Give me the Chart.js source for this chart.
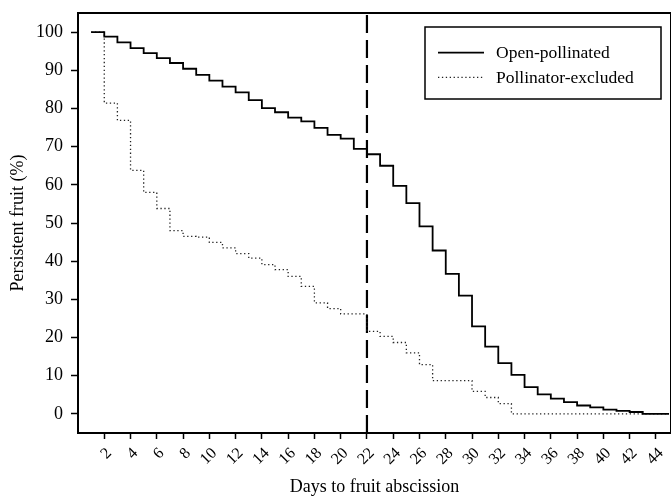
<!DOCTYPE html>
<html>
<head>
<meta charset="utf-8">
<script src="https://cdn.jsdelivr.net/npm/chart.js@4.4.0/dist/chart.umd.min.js"></script>
<style>
  html, body { margin: 0; padding: 0; background: #fff; }
  canvas { display: block; }
</style>
</head>
<body>
<canvas id="chart" width="671" height="500"></canvas>
<script>
/* Fruit persistence over time, open vs pollinator-excluded flowers.
   Values (step curves, one step per day). */
const days = [1, 2, 3, 4, 5, 6, 7, 8, 9, 10, 11, 12, 13, 14, 15, 16, 17, 18, 19, 20, 21, 22, 23,
              24, 25, 26, 27, 28, 29, 30, 31, 32, 33, 34, 35, 36, 37, 38, 39, 40, 41, 42, 43, 44, 45];

const openPollinated = [100, 98.8, 97.3, 95.8, 94.5, 93.2, 91.9, 90.4, 88.8, 87.3, 85.7, 84.2, 82.2,
                        80.1, 79.0, 77.6, 76.6, 74.9, 73.1, 72.1, 69.4, 68.0, 65.0, 59.7, 55.2, 49.1,
                        42.8, 36.7, 31.0, 22.9, 17.6, 13.3, 10.2, 7.0, 5.1, 4.0, 3.1, 2.2, 1.7, 1.1,
                        0.8, 0.5, 0, 0, 0];

const pollinatorExcluded = [100, 81.4, 76.9, 63.8, 58.0, 53.8, 48.0, 46.5, 46.3, 44.9, 43.5, 42.0, 40.8,
                            39.1, 37.8, 36.0, 33.4, 29.1, 27.6, 26.2, 26.2, 21.6, 20.3, 18.7, 16.0, 12.9,
                            8.7, 8.7, 8.7, 5.9, 4.3, 2.7, 0, 0, 0, 0, 0, 0, 0, 0, 0, 0, 0, 0, 0];

const seriesLabels = ["Open-pollinated", "Pollinator-excluded"];
const cutoffDay = 22;          // vertical dashed marker
const yTickValues = [0, 10, 20, 30, 40, 50, 60, 70, 80, 90, 100];
const xTickValues = [2, 4, 6, 8, 10, 12, 14, 16, 18, 20, 22, 24, 26, 28, 30, 32, 34, 36, 38, 40, 42, 44];

const SERIF = "'Liberation Serif', 'Times New Roman', serif";
Chart.defaults.font.family = SERIF;
Chart.defaults.color = "#000";

const toXY = vals => days.map((d, i) => ({ x: d, y: vals[i] }));

// box around the plot area (R-style bty="o")
const frame = {
  id: "frame",
  afterDatasetsDraw(chart) {
    const { ctx, chartArea: a } = chart;
    ctx.save();
    ctx.strokeStyle = "#000";
    ctx.lineWidth = 2;
    ctx.strokeRect(a.left, a.top, a.right - a.left, a.bottom - a.top);
    ctx.restore();
  }
};

// boxed legend in the top-right corner, styled from the datasets
const boxLegend = {
  id: "boxLegend",
  afterDraw(chart, args, opts) {
    const { ctx } = chart;
    ctx.save();
    ctx.fillStyle = "#fff";
    ctx.fillRect(opts.x, opts.y, opts.w, opts.h);
    ctx.strokeStyle = "#000";
    ctx.lineWidth = 1.5;
    ctx.strokeRect(opts.x, opts.y, opts.w, opts.h);
    ctx.font = opts.font;
    ctx.textBaseline = "middle";
    opts.rows.forEach((rowY, i) => {
      const ds = chart.data.datasets[i];
      ctx.beginPath();
      ctx.setLineDash(ds.borderDash || []);
      ctx.lineWidth = ds.borderWidth;
      ctx.strokeStyle = ds.borderColor;
      ctx.moveTo(opts.x + 13, rowY);
      ctx.lineTo(opts.x + 59, rowY);
      ctx.stroke();
      ctx.setLineDash([]);
      ctx.fillStyle = "#000";
      ctx.fillText(ds.label, opts.x + 71, rowY + 1);
    });
    ctx.restore();
  }
};

new Chart(document.getElementById("chart"), {
  type: "line",
  data: {
    datasets: [
      {
        label: seriesLabels[0],
        data: toXY(openPollinated),
        stepped: true,
        borderColor: "#000",
        borderWidth: 1.8,
        pointRadius: 0,
        fill: false
      },
      {
        label: seriesLabels[1],
        data: toXY(pollinatorExcluded),
        stepped: true,
        borderColor: "#222",
        borderWidth: 1.3,
        borderDash: [1.3, 2.6],
        pointRadius: 0,
        fill: false
      },
      {
        label: "cutoff",
        data: [{ x: cutoffDay, y: -5 }, { x: cutoffDay, y: 105 }],
        borderColor: "#000",
        borderWidth: 2.2,
        borderDash: [18, 7],
        pointRadius: 0,
        fill: false
      }
    ]
  },
  options: {
    responsive: false,
    animation: false,
    layout: { padding: { top: 13, left: 0, right: 0, bottom: 0 } },
    plugins: {
      legend: { display: false },
      tooltip: { enabled: false },
      boxLegend: {
        x: 425, y: 27, w: 236, h: 72,
        rows: [52.7, 77.3],
        font: "17.5px " + SERIF
      }
    },
    scales: {
      x: {
        type: "linear",
        min: 0,
        max: 45.15,
        afterBuildTicks: s => { s.ticks = xTickValues.map(v => ({ value: v })); },
        afterFit: s => { s.height = 67; s.paddingLeft = 0; s.paddingRight = 0; },
        border: { display: true, color: "#000", width: 2 },
        grid: { drawOnChartArea: false, drawTicks: true, tickLength: 6, tickColor: "#000", tickWidth: 1.5 },
        ticks: { minRotation: 45, maxRotation: 45, padding: 5, labelOffset: 5, font: { size: 16 } },
        title: { display: true, text: "Days to fruit abscission", font: { size: 18 }, padding: { top: 0, bottom: 2 } }
      },
      y: {
        min: -5,
        max: 105,
        afterBuildTicks: s => { s.ticks = yTickValues.map(v => ({ value: v })); },
        afterFit: s => { s.width = 78; s.paddingTop = 0; s.paddingBottom = 0; },
        border: { display: true, color: "#000", width: 2 },
        grid: { drawOnChartArea: false, drawTicks: true, tickLength: 7, tickColor: "#000", tickWidth: 1.5 },
        ticks: { padding: 8, font: { size: 18 } },
        title: { display: true, text: "Persistent fruit (%)", font: { size: 18 }, padding: { top: 7, bottom: 0 } }
      }
    }
  },
  plugins: [frame, boxLegend]
});
</script>
</body>
</html>
